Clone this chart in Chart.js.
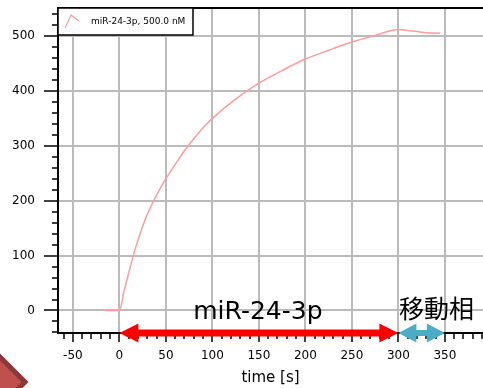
<!DOCTYPE html>
<html>
<head>
<meta charset="utf-8">
<script src="https://cdn.jsdelivr.net/npm/chart.js@4/dist/chart.umd.min.js"></script>
<style>
  html, body { margin: 0; padding: 0; background: #fff; }
  #wrap { width: 483px; height: 388px; position: relative; }
</style>
</head>
<body>
<div id="wrap"><canvas id="chart"></canvas></div>
<script>
// sensorgram data
const times = [-15, 0, 5, 10, 15, 20, 25, 30, 40, 50, 60, 70, 80, 90, 100, 125, 150, 175, 200, 225, 250, 275, 300, 310, 320, 330, 345];
const signal = [0, 0, 35, 68, 100, 128, 153, 175, 210, 240, 266, 291, 313, 333, 350, 385, 414, 437, 458, 474, 489, 501, 512, 510, 508, 506, 505];
const seriesLabel = 'miR-24-3p, 500.0 nM';

// axis ranges and tick labels
const xRange = [-66, 391];
const yRange = [-41, 551];
const xTicks = [-50, 0, 50, 100, 150, 200, 250, 300, 350];
const yTicks = [0, 100, 200, 300, 400, 500];
const xMinor = 10, yMinor = 20;

// phase annotations
const phases = [
    { label: 'miR-24-3p', from: 0, to: 300, color: '#ff0000' },
    { label: '移動相', from: 300, to: 350, color: '#4bacc6' }
];

const FONT = '"DejaVu Sans", Verdana, sans-serif';

function arrow(ctx, x1, x2, y, color, shaft, headLen, headH) {
    ctx.save();
    ctx.fillStyle = color;
    ctx.beginPath();
    ctx.moveTo(x1, y);
    ctx.lineTo(x1 + headLen, y - headH / 2);
    ctx.lineTo(x1 + headLen, y - shaft / 2);
    ctx.lineTo(x2 - headLen, y - shaft / 2);
    ctx.lineTo(x2 - headLen, y - headH / 2);
    ctx.lineTo(x2, y);
    ctx.lineTo(x2 - headLen, y + headH / 2);
    ctx.lineTo(x2 - headLen, y + shaft / 2);
    ctx.lineTo(x1 + headLen, y + shaft / 2);
    ctx.lineTo(x1 + headLen, y + headH / 2);
    ctx.closePath();
    ctx.fill();
    ctx.restore();
}

const decorations = {
    id: 'decorations',
    afterDraw(chart) {
        const ctx = chart.ctx;
        const area = chart.chartArea;
        const xs = chart.scales.x, ys = chart.scales.y;

        // minor ticks
        ctx.save();
        ctx.strokeStyle = '#000';
        ctx.lineWidth = 1.5;
        ctx.beginPath();
        for (let v = Math.ceil(xRange[0] / xMinor) * xMinor; v <= xRange[1]; v += xMinor) {
            if (xTicks.includes(v)) continue;
            const px = Math.round(xs.getPixelForValue(v));
            ctx.moveTo(px, area.bottom);
            ctx.lineTo(px, area.bottom + 6);
        }
        for (let v = Math.ceil(yRange[0] / yMinor) * yMinor; v <= yRange[1]; v += yMinor) {
            if (yTicks.includes(v)) continue;
            const py = Math.round(ys.getPixelForValue(v));
            ctx.moveTo(area.left, py);
            ctx.lineTo(area.left - 6, py);
        }
        ctx.stroke();

        // top frame line
        ctx.lineWidth = 2;
        ctx.beginPath();
        ctx.moveTo(area.left, area.top);
        ctx.lineTo(area.right, area.top);
        ctx.stroke();
        ctx.restore();

        // legend box
        const ds = chart.data.datasets[0];
        ctx.save();
        ctx.fillStyle = '#fff';
        ctx.fillRect(area.left, area.top, 135, 27);
        ctx.strokeStyle = '#000';
        ctx.lineWidth = 1.5;
        ctx.strokeRect(area.left, area.top, 135, 27);
        ctx.strokeStyle = ds.borderColor;
        ctx.lineWidth = 1.2;
        ctx.beginPath();
        ctx.moveTo(area.left + 7, area.top + 20);
        ctx.lineTo(area.left + 13, area.top + 7);
        ctx.lineTo(area.left + 21, area.top + 13);
        ctx.stroke();
        ctx.fillStyle = '#000';
        ctx.font = '9px ' + FONT;
        ctx.textBaseline = 'middle';
        ctx.fillText(ds.label, area.left + 33, area.top + 14);
        ctx.restore();

        // phase arrows and labels
        const yArrow = area.bottom;
        phases.forEach((p, i) => {
            const x1 = xs.getPixelForValue(p.from);
            const x2 = xs.getPixelForValue(p.to);
            if (i === 0) arrow(ctx, x1, x2, yArrow, p.color, 7, 19, 19);
            else arrow(ctx, x1, x2, yArrow, p.color, 6, 18, 19);
        });
        ctx.save();
        ctx.fillStyle = '#000';
        ctx.textAlign = 'center';
        ctx.textBaseline = 'alphabetic';
        ctx.font = '25px ' + FONT;
        ctx.fillText(phases[0].label, (xs.getPixelForValue(phases[0].from) + xs.getPixelForValue(phases[0].to)) / 2 - 1, 319);
        ctx.font = '25px "Noto Sans CJK JP", sans-serif';
        ctx.fillText(phases[1].label, (xs.getPixelForValue(phases[1].from) + xs.getPixelForValue(phases[1].to)) / 2 + 15, 318);
        ctx.restore();

        // corner diamond
        ctx.save();
        ctx.beginPath();
        ctx.moveTo(25, 382);
        ctx.lineTo(0, 357);
        ctx.lineTo(-25, 382);
        ctx.lineTo(0, 407);
        ctx.closePath();
        ctx.fillStyle = '#c0504d';
        ctx.fill();
        ctx.strokeStyle = '#8c3836';
        ctx.lineWidth = 5;
        ctx.stroke();
        ctx.restore();
    }
};

new Chart(document.getElementById('chart'), {
    type: 'line',
    data: {
        labels: times,
        datasets: [{
            label: seriesLabel,
            data: times.map((t, i) => ({ x: t, y: signal[i] })),
            borderColor: '#ff9c9c',
            borderWidth: 1.5,
            pointRadius: 0,
            cubicInterpolationMode: 'monotone',
            fill: false
        }]
    },
    options: {
        responsive: true,
        maintainAspectRatio: false,
        animation: false,
        layout: { padding: { top: 8, right: 0, left: 0, bottom: 0 } },
        plugins: { legend: { display: false }, tooltip: { enabled: false } },
        scales: {
            x: {
                type: 'linear',
                min: xRange[0],
                max: xRange[1],
                afterFit(scale) { scale.height = 55; scale.paddingLeft = 0; scale.paddingRight = 0; },
                afterBuildTicks(scale) { scale.ticks = xTicks.map(v => ({ value: v })); },
                ticks: { color: '#000', font: { family: FONT, size: 12 }, padding: 7, maxRotation: 0, autoSkip: false },
                grid: { color: '#bbbbbb', lineWidth: 2, tickColor: '#000', tickLength: 9, tickWidth: 1.5 },
                border: { color: '#000', width: 2 },
                title: { display: true, text: 'time [s]', color: '#000', font: { family: FONT, size: 15 }, padding: { top: 0, bottom: 1 } }
            },
            y: {
                type: 'linear',
                min: yRange[0],
                max: yRange[1],
                afterFit(scale) { scale.width = 58; scale.paddingTop = 0; scale.paddingBottom = 0; },
                afterBuildTicks(scale) { scale.ticks = yTicks.map(v => ({ value: v })); },
                ticks: { color: '#000', font: { family: FONT, size: 12 }, padding: 9 },
                grid: { color: '#bbbbbb', lineWidth: 2, tickColor: '#000', tickLength: 14, tickWidth: 1.5 },
                border: { color: '#000', width: 2 }
            }
        }
    },
    plugins: [decorations]
});
</script>
</body>
</html>
